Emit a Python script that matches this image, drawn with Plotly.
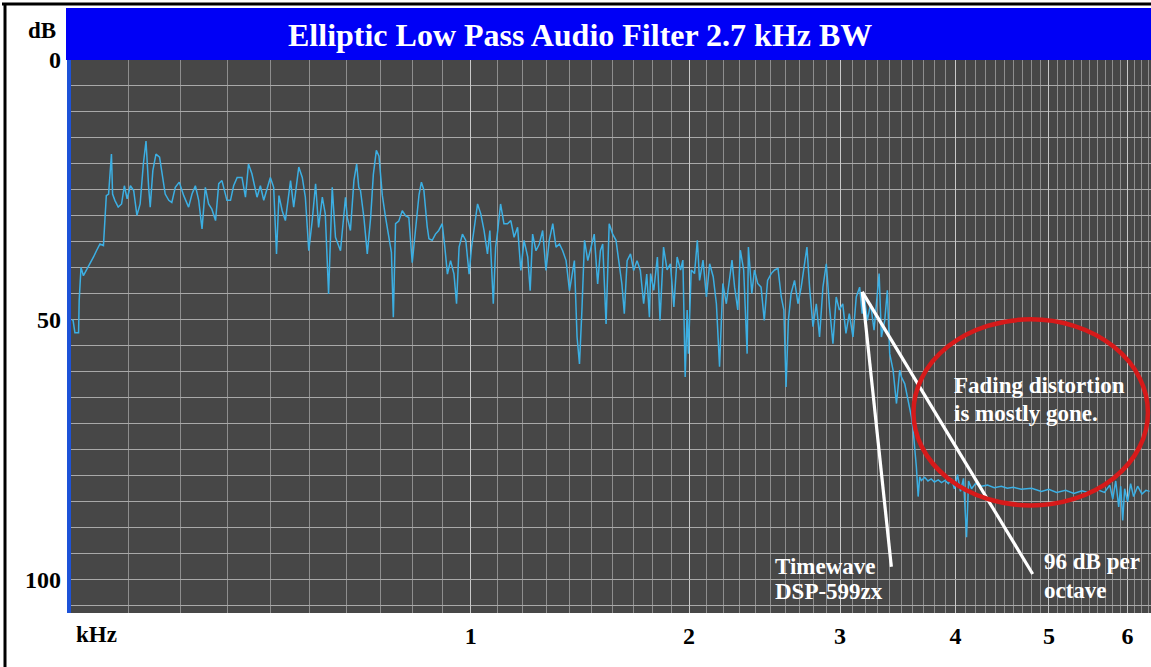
import numpy as np
import plotly.graph_objects as go

TITLE = "Elliptic Low Pass Audio Filter 2.7 kHz BW"
# The analyser's frequency axis is warped: position ~ log10(f + 0.8 kHz)
AXIS_WARP_KHZ = 0.8
X_MIN_KHZ, X_MAX_KHZ = 0.0, 6.33
Y_TOP_DB, Y_BOTTOM_DB = 0.0, 106.4

# ---------------- data ----------------
pass_freq = [0.003, 0.005, 0.008, 0.014, 0.015, 0.018, 0.022, 0.027, 0.033, 0.039,
             0.044, 0.050, 0.056, 0.059, 0.061, 0.065, 0.070, 0.072, 0.076, 0.082,
             0.088, 0.093, 0.098, 0.104, 0.110, 0.116, 0.122, 0.128, 0.133, 0.138,
             0.141, 0.146, 0.152, 0.159, 0.163, 0.170, 0.177, 0.183, 0.190, 0.198,
             0.207, 0.217, 0.224, 0.231, 0.238, 0.245, 0.252, 0.259, 0.266, 0.274,
             0.281, 0.288, 0.299, 0.307, 0.314, 0.322, 0.333, 0.341, 0.348, 0.356,
             0.368, 0.376, 0.384, 0.392, 0.400, 0.408, 0.415, 0.421, 0.429, 0.437,
             0.450, 0.458, 0.471, 0.480, 0.488, 0.497, 0.506, 0.515, 0.523, 0.533,
             0.541, 0.550, 0.560, 0.569, 0.583, 0.597, 0.602, 0.611, 0.621, 0.629,
             0.635, 0.640, 0.650, 0.660, 0.670, 0.678, 0.687, 0.695, 0.705, 0.715,
             0.725, 0.733, 0.739, 0.746, 0.756, 0.767, 0.778, 0.788, 0.799, 0.810,
             0.821, 0.829, 0.837, 0.848, 0.854, 0.865, 0.876, 0.887, 0.899, 0.908,
             0.917, 0.928, 0.940, 0.949, 0.958, 0.970, 0.982, 0.994, 1.003, 1.015,
             1.025, 1.037, 1.049, 1.062, 1.071, 1.084, 1.093, 1.101, 1.112, 1.125,
             1.139, 1.152, 1.165, 1.179, 1.192, 1.205, 1.220, 1.230, 1.240, 1.254,
             1.268, 1.282, 1.296, 1.310, 1.325, 1.339, 1.354, 1.368, 1.383, 1.398,
             1.408, 1.420, 1.432, 1.443, 1.454, 1.466, 1.481, 1.495, 1.511, 1.527,
             1.540, 1.551, 1.567, 1.582, 1.599, 1.615, 1.632, 1.644, 1.656, 1.670,
             1.687, 1.703, 1.720, 1.737, 1.754, 1.770, 1.784]
pass_db = [50.0, 50.1, 52.5, 52.5, 46.3, 39.9, 41.5, 40.5, 39.2, 37.9,
           36.7, 35.4, 35.7, 30.3, 26.1, 25.8, 18.1, 25.8, 27.0, 28.3,
           27.7, 24.2, 26.7, 24.2, 25.1, 29.9, 27.7, 20.0, 15.6, 24.5,
           28.3, 21.3, 18.1, 18.7, 21.3, 25.8, 27.0, 27.4, 24.5, 23.5,
           26.1, 28.3, 25.8, 24.2, 27.0, 32.5, 24.5, 27.7, 28.7, 30.9,
           23.8, 23.2, 27.0, 27.0, 24.2, 22.6, 22.6, 26.4, 20.0, 21.9,
           26.4, 24.2, 27.0, 24.5, 22.6, 24.5, 37.3, 26.1, 29.0, 30.9,
           23.2, 28.3, 20.6, 22.6, 26.4, 36.7, 30.9, 23.8, 32.2, 26.4,
           29.6, 45.0, 24.5, 34.1, 36.7, 26.4, 30.3, 32.8, 23.2, 20.0,
           24.5, 25.1, 30.3, 37.3, 30.3, 22.0, 17.4, 18.5, 26.0, 30.3,
           34.5, 37.0, 49.5, 31.5, 31.0, 29.0, 30.0, 30.3, 39.0, 32.5,
           26.0, 23.5, 25.0, 32.0, 34.4, 34.7, 33.5, 32.8, 31.5, 36.0,
           41.2, 38.6, 41.2, 46.9, 36.0, 33.5, 34.7, 41.2, 36.0, 31.5,
           27.7, 29.6, 32.8, 37.3, 32.8, 46.9, 36.0, 32.8, 27.7, 31.5,
           31.5, 30.9, 34.1, 32.2, 40.5, 34.7, 37.9, 44.4, 33.5, 36.7,
           35.4, 32.8, 40.5, 34.7, 31.5, 36.0, 35.4, 36.7, 38.6, 44.4,
           41.8, 38.6, 53.3, 58.5, 48.2, 34.7, 38.6, 36.0, 33.5, 43.1,
           36.7, 35.4, 50.8, 31.5, 33.5, 34.7, 39.9, 43.1, 48.8, 38.6,
           37.3, 40.5, 38.6, 40.5, 46.9, 41.2, 49.5]

edge_freq = [1.790, 1.807, 1.826, 1.840, 1.859, 1.878, 1.896, 1.915, 1.933, 1.952,
             1.965, 1.978, 1.989, 1.996, 2.012, 2.031, 2.047, 2.060, 2.080, 2.100,
             2.119, 2.140, 2.159, 2.178, 2.198, 2.219, 2.239, 2.254, 2.270, 2.290,
             2.306, 2.327, 2.349, 2.357, 2.379, 2.396, 2.417, 2.439, 2.460, 2.482,
             2.506, 2.529, 2.552, 2.574, 2.592, 2.607, 2.623, 2.642, 2.666, 2.690,
             2.713, 2.737, 2.754, 2.773, 2.798, 2.822, 2.846, 2.871, 2.896, 2.920,
             2.946, 2.971, 2.995, 3.021, 3.046, 3.072, 3.101, 3.127, 3.154, 3.174,
             3.190, 3.216, 3.243, 3.271, 3.290, 3.313, 3.332, 3.360, 3.382, 3.402,
             3.431, 3.460, 3.488, 3.503, 3.532, 3.562, 3.591, 3.606, 3.620, 3.635,
             3.651, 3.665]
edge_db = [41.1, 44.3, 37.9, 50.1, 36.0, 40.4, 39.2, 47.5, 37.9, 40.4,
           38.5, 61.0, 48.1, 56.5, 40.4, 41.1, 34.7, 42.4, 38.5, 45.6,
           39.2, 41.7, 46.9, 59.0, 43.0, 46.9, 42.4, 38.5, 43.7, 48.1,
           36.6, 40.4, 56.5, 36.0, 44.9, 40.4, 43.0, 43.7, 50.1, 42.4,
           41.1, 40.4, 40.1, 45.6, 48.1, 62.9, 50.1, 44.9, 42.4, 46.9,
           43.7, 39.2, 36.0, 43.7, 51.3, 46.9, 53.3, 43.7, 39.2, 47.5,
           54.6, 45.6, 48.1, 46.9, 52.6, 48.8, 53.3, 45.6, 43.7, 48.8,
           45.3, 50.1, 46.9, 52.0, 46.2, 41.1, 53.3, 50.1, 44.3, 56.5,
           59.7, 66.1, 59.7, 61.0, 62.3, 65.5, 68.7, 71.2, 74.5, 78.3,
           84.0, 80.2]

stop_freq = [3.680, 3.710, 3.740, 3.770, 3.800, 3.836, 3.866, 3.900, 3.932, 3.961,
             3.990, 4.020, 4.049, 4.079, 4.109, 4.129, 4.159, 4.198, 4.260, 4.321,
             4.393, 4.467, 4.531, 4.596, 4.683, 4.800, 4.912, 4.997, 5.091, 5.199,
             5.300, 5.400, 5.501, 5.600, 5.690, 5.759, 5.799, 5.839, 5.879, 5.906,
             5.933, 5.960, 6.001, 6.042, 6.083, 6.140, 6.200, 6.257, 6.310]
stop_db = [80.9, 80.3, 81.0, 80.6, 81.2, 80.8, 81.3, 80.9, 81.5, 80.5,
           82.5, 79.8, 83.0, 80.5, 91.8, 81.0, 82.5, 81.5, 82.0, 81.8,
           82.3, 82.0, 82.4, 82.2, 82.6, 82.4, 83.0, 82.6, 83.2, 82.8,
           83.4, 82.9, 83.3, 82.7, 83.2, 81.8, 84.5, 81.0, 86.0, 82.0,
           88.6, 82.5, 85.0, 81.5, 84.0, 82.0, 83.5, 82.8, 83.0]

x_tick_khz = [1, 2, 3, 4, 5, 6]
x_tick_text = ["1", "2", "3", "4", "5", "6"]
x_grid_khz = [round(0.1 * i, 1) for i in range(1, 64) if i % 10 != 0]
y_tick_db = [0, 50, 100]
y_tick_text = ["0", "50", "100"]
y_grid_db = list(range(0, 106, 5))

# annotation geometry (kHz, dB)
pointer_start = (3.175, 44.6)
pointer_timewave_end = (3.416, 97.5)
pointer_slope_end = (4.812, 98.9)
ellipse_khz = (3.609, 6.286)
ellipse_db = (49.9, 85.7)

# ---------------- figure ----------------
def ax(f):
    """value on the warped (log) frequency axis"""
    return np.asarray(f, dtype=float) + AXIS_WARP_KHZ


def axlog(f):
    return float(np.log10(f + AXIS_WARP_KHZ))


freq = pass_freq + edge_freq + stop_freq
level = pass_db + edge_db + stop_db

SERIF = "Liberation Serif, Times New Roman, serif"
fig = go.Figure()

fig.add_trace(go.Scatter(
    x=ax(freq), y=level, mode="lines",
    line=dict(color="#3cafe3", width=1.5),
    hoverinfo="skip", showlegend=False))

for end in (pointer_timewave_end, pointer_slope_end):
    fig.add_trace(go.Scatter(
        x=ax([pointer_start[0], end[0]]), y=[pointer_start[1], end[1]],
        mode="lines", line=dict(color="white", width=3.2),
        hoverinfo="skip", showlegend=False))

W, H = 1151, 667
ML, MR, MT, MB = 70, 0, 60, 54
PW, PH = W - ML - MR, H - MT - MB


def px_x(p):
    return (p - ML) / PW


def px_y(p):
    return (H - MB - p) / PH


fig.update_layout(
    width=W, height=H,
    margin=dict(l=ML, r=MR, t=MT, b=MB, pad=0),
    paper_bgcolor="white", plot_bgcolor="#474747",
    font=dict(family=SERIF, color="black"),
    xaxis=dict(
        type="log",
        range=[axlog(X_MIN_KHZ), axlog(X_MAX_KHZ)],
        tickvals=list(ax(x_tick_khz)), ticktext=x_tick_text,
        ticks="", showgrid=True, gridcolor="#c9c9c9", gridwidth=1.3,
        zeroline=False, showline=False,
        tickfont=dict(family=SERIF, size=24, color="black", weight="bold"),
        ticklabelstandoff=6,
        minor=dict(tickvals=list(ax(x_grid_khz)), showgrid=True,
                   gridcolor="#8e8e8e", gridwidth=1, ticks=""),
    ),
    yaxis=dict(
        range=[Y_BOTTOM_DB, Y_TOP_DB],
        tickvals=y_tick_db, ticktext=y_tick_text,
        ticks="", showgrid=True, gridcolor="#a9a9a9", gridwidth=1.2,
        zeroline=False, showline=False,
        tickfont=dict(family=SERIF, size=24, color="black", weight="bold"),
        ticklabelstandoff=8,
        minor=dict(tickvals=y_grid_db, showgrid=True,
                   gridcolor="#a9a9a9", gridwidth=1.2, ticks=""),
    ),
)

shapes = [
    # title bar
    dict(type="rect", xref="paper", yref="paper",
         x0=px_x(66), x1=1.0, y0=1.0, y1=px_y(8),
         fillcolor="#0000f6", line=dict(width=0), layer="above"),
    # blue left edge of the plot
    dict(type="line", xref="paper", yref="paper",
         x0=px_x(69), x1=px_x(69), y0=0, y1=1,
         line=dict(color="#1d52d8", width=4), layer="above"),
    # outer frame (top and left)
    dict(type="line", xref="paper", yref="paper",
         x0=px_x(2), x1=1.0, y0=px_y(4), y1=px_y(4),
         line=dict(color="black", width=3)),
    dict(type="line", xref="paper", yref="paper",
         x0=px_x(5), x1=px_x(5), y0=px_y(3), y1=px_y(H),
         line=dict(color="black", width=3)),
    # red ellipse (shape coordinates on this log axis are data values)
    dict(type="circle", xref="x", yref="y",
         x0=float(ax(ellipse_khz[0])), x1=float(ax(ellipse_khz[1])),
         y0=ellipse_db[0], y1=ellipse_db[1],
         line=dict(color="#d61a1a", width=4.5), layer="above"),
]
fig.update_layout(shapes=shapes)

annotations = [
    dict(text="<b>" + TITLE + "</b>", xref="paper", yref="paper",
         x=px_x(580), y=px_y(35), xanchor="center", yanchor="middle",
         showarrow=False, font=dict(family=SERIF, size=32, color="white")),
    dict(text="<b>dB</b>", xref="paper", yref="paper",
         x=px_x(42), y=px_y(30), xanchor="center", yanchor="middle",
         showarrow=False, font=dict(family=SERIF, size=23, color="black")),
    dict(text="<b>kHz</b>", xref="paper", yref="paper",
         x=px_x(74), y=px_y(634), xanchor="left", yanchor="middle",
         showarrow=False, font=dict(family=SERIF, size=23, color="black")),
]
note_lines = [
    ("Fading distortion", 3.971, 62.6),
    ("is mostly gone.", 3.962, 68.0),
    ("Timewave", 2.519, 97.4),
    ("DSP-599zx", 2.519, 102.2),
    ("96 dB per", 4.916, 96.4),
    ("octave", 4.916, 102.0),
]
for txt, fk, db in note_lines:
    annotations.append(dict(
        text="<b>" + txt + "</b>", xref="x", yref="y",
        x=axlog(fk), y=db, xanchor="left", yanchor="middle",
        showarrow=False, font=dict(family=SERIF, size=23, color="white")))
fig.update_layout(annotations=annotations)

fig.write_html(
    "out.html",
    config={"displayModeBar": False},
    post_script="document.body.style.margin='0';"
                "document.body.style.overflow='hidden';"
                "document.documentElement.style.overflow='hidden';",
)
